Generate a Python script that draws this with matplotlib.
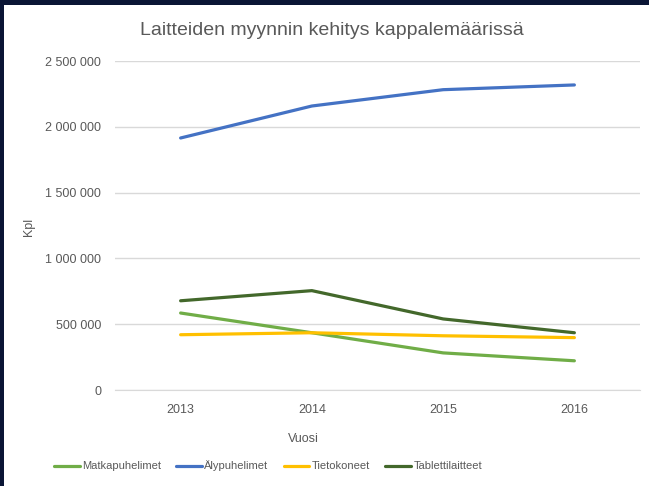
import matplotlib
matplotlib.use('Agg')
import matplotlib.pyplot as plt
from matplotlib.patches import Rectangle
from matplotlib.ticker import FuncFormatter

# Data
vuodet = ['2013', '2014', '2015', '2016']
matkapuhelimet = [585000, 435000, 282000, 222000]
alypuhelimet = [1915000, 2158000, 2282000, 2318000]
tietokoneet = [420000, 435000, 412000, 398000]
tablettilaitteet = [678000, 755000, 540000, 435000]

sarjat = [
    ('Matkapuhelimet', matkapuhelimet, '#70AD47'),
    ('Älypuhelimet', alypuhelimet, '#4472C4'),
    ('Tietokoneet', tietokoneet, '#FFC000'),
    ('Tablettilaitteet', tablettilaitteet, '#43682B'),
]

W, H = 649, 486
FONT = 'Liberation Sans'
GREY = '#595959'

fig = plt.figure(figsize=(W / 100, H / 100), dpi=100)
fig.patch.set_facecolor('#0a1535')
# white chart area inside the dark frame
fig.patches.append(Rectangle((4 / W, 0), 1 - 4 / W, 1 - 5 / H, transform=fig.transFigure,
                             facecolor='white', edgecolor='none', zorder=-1))

ax = fig.add_axes([115 / W, (H - 390) / H, (640 - 115) / W, (390 - 61) / H])
ax.set_facecolor('white')

x = range(len(vuodet))
for nimi, arvot, vari in sarjat:
    ax.plot(x, arvot, color=vari, linewidth=2.3, label=nimi, solid_capstyle='round')

ax.set_xlim(-0.5, len(vuodet) - 0.5)
ax.set_ylim(0, 2500000)
ax.set_yticks(range(0, 2500001, 500000))
ax.yaxis.set_major_formatter(FuncFormatter(lambda v, p: f'{int(v):,}'.replace(',', ' ')))
ax.set_xticks(list(x))
ax.set_xticklabels(vuodet)

ax.grid(axis='y', color='#D9D9D9', linewidth=1)
ax.set_axisbelow(True)
for s in ['top', 'right', 'left']:
    ax.spines[s].set_visible(False)
ax.spines['bottom'].set_color('#D9D9D9')
ax.tick_params(length=0, labelsize=9, labelcolor=GREY)
ax.tick_params(axis='y', pad=10)
ax.tick_params(axis='x', pad=10)
for lbl in ax.get_xticklabels() + ax.get_yticklabels():
    lbl.set_family(FONT)

ax.set_xlabel('Vuosi', fontsize=9, color=GREY, family=FONT)
ax.xaxis.set_label_coords((303 - 115) / (640 - 115), -(433 - 390) / (390 - 61))
ax.set_ylabel('Kpl', fontsize=9, color=GREY, family=FONT)
ax.yaxis.set_label_coords(-(115 - 35) / (640 - 115), (390 - 227) / (390 - 61))

fig.text(332 / W, 1 - 30 / H, 'Laitteiden myynnin kehitys kappalemäärissä',
         ha='center', va='center', fontsize=14, color=GREY, family=FONT)

fig.legend(loc='center', bbox_to_anchor=(268 / W, 1 - 466 / H), ncol=4, frameon=False,
           prop={'family': FONT, 'size': 8}, labelcolor=GREY, handlelength=2.3,
           handletextpad=0.2, columnspacing=1.4)

fig.savefig('out.png', dpi=100)
